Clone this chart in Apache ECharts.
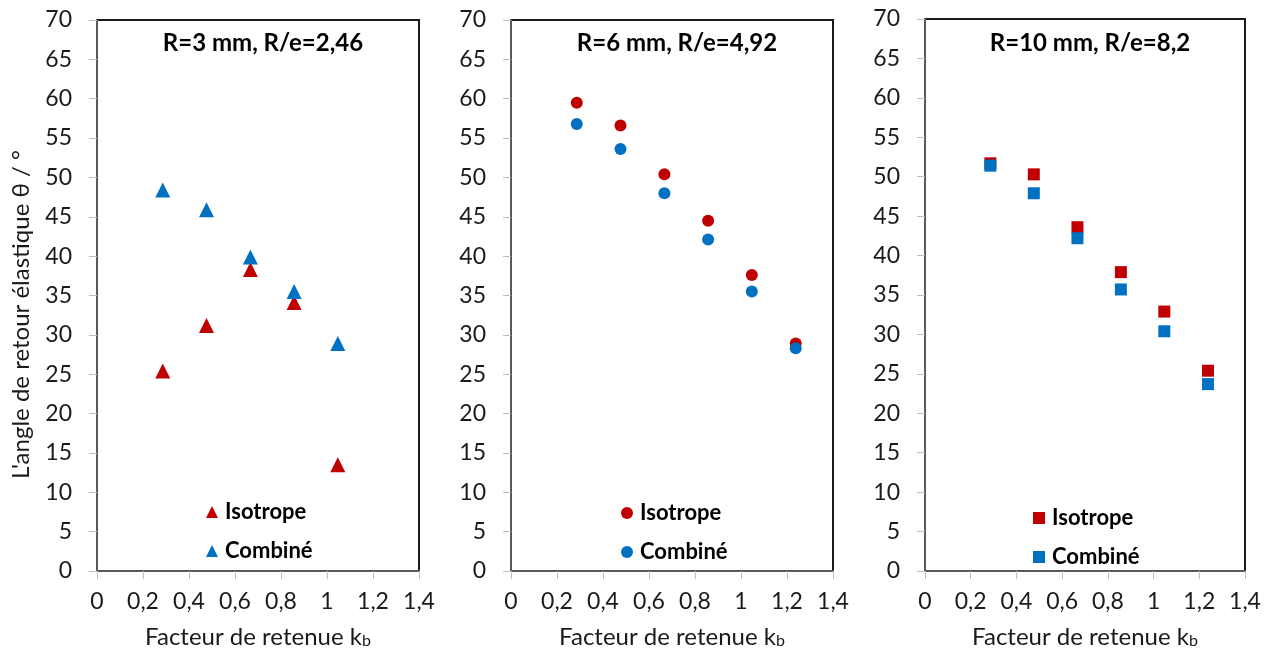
<!DOCTYPE html>
<html>
<head>
<meta charset="utf-8">
<script src="https://cdn.jsdelivr.net/npm/echarts@6/dist/echarts.min.js"></script>
<style>
html,body{margin:0;padding:0;background:#fff;}
#chart{width:1272px;height:654px;}
</style>
</head>
<body>
<div id="chart"></div>
<script>
// ---- data ----
const kbValues = [0.286, 0.476, 0.667, 0.857, 1.047, 1.238];
const panelTitles = ['R=3 mm, R/e=2,46', 'R=6 mm, R/e=4,92', 'R=10 mm, R/e=8,2'];
const seriesNames = ['Isotrope', 'Combiné'];
const p1Isotrope = [25.4, 31.2, 38.3, 34.1, 13.5];
const p1Combine  = [48.4, 45.9, 39.9, 35.5, 28.9];
const p2Isotrope = [59.5, 56.6, 50.4, 44.5, 37.6, 28.9];
const p2Combine  = [56.8, 53.6, 48.0, 42.1, 35.5, 28.3];
const p3Isotrope = [51.7, 50.3, 43.6, 37.9, 32.9, 25.4];
const p3Combine  = [51.4, 47.9, 42.2, 35.7, 30.4, 23.7];
const yAxisName = "L'angle de retour élastique θ / °";
const xAxisName = 'Facteur de retenue k';
const xAxisSub = 'b';

// ---- layout / style ----
const FONT = 'Lato';
const RED = '#C00000', BLUE = '#0070C0';
const panels = [
  {left: 97, width: 322, top: 20, height: 552, symbol: 'triangle', size: 15, iso: p1Isotrope, comb: p1Combine, leg: {x: 206, y: 501}},
  {left: 511, width: 322, top: 20, height: 552, symbol: 'circle', size: 12, iso: p2Isotrope, comb: p2Combine, leg: {x: 621, y: 502}},
  {left: 925, width: 320, top: 19, height: 558, symbol: 'rect', size: 12, iso: p3Isotrope, comb: p3Combine, leg: {x: 1033, y: 507}}
];

function pairs(ys){ return ys.map((y,i)=>[kbValues[i], y]); }
function fmtX(v){ return String(Math.round(v*10)/10).replace('.', ','); }

const grid=[], xAxis=[], yAxis=[], series=[], title=[], legend=[];
panels.forEach((p, i) => {
  grid.push({left: p.left, top: p.top, width: p.width, height: p.height, show: true, borderColor: '#1a1a1a', borderWidth: 2, backgroundColor: 'transparent'});
  xAxis.push({
    type: 'value', gridIndex: i, min: 0, max: 1.4, interval: 0.2,
    name: '{t|' + xAxisName + '}{s|' + xAxisSub + '}', nameLocation: 'middle', nameGap: 54,
    nameTextStyle: {rich: {t: {fontFamily: FONT, fontSize: 24, color: '#1a1a1a'}, s: {fontFamily: FONT, fontSize: 16, color: '#1a1a1a', padding: [7,0,0,0]}}},
    axisLine: {show: true, onZero: false, lineStyle: {color: '#595959', width: 2}},
    axisTick: {show: true, length: 8, lineStyle: {color: '#bfbfbf', width: 1}},
    axisLabel: {formatter: fmtX, fontFamily: FONT, fontSize: 23, color: '#1a1a1a', margin: 19},
    splitLine: {show: false}
  });
  yAxis.push({
    type: 'value', gridIndex: i, min: 0, max: 70, interval: 5,
    name: i === 0 ? yAxisName : '', nameLocation: 'middle', nameGap: 64, nameRotate: 90,
    nameTextStyle: {fontFamily: FONT, fontSize: 24, color: '#1a1a1a', padding: [0, 38, 0, 0]},
    axisLine: {show: true, onZero: false, lineStyle: {color: '#595959', width: 2}},
    axisTick: {show: true, length: 8, lineStyle: {color: '#bfbfbf', width: 1}},
    axisLabel: {fontFamily: FONT, fontSize: 23, color: '#1a1a1a', margin: 25},
    splitLine: {show: false}
  });
  title.push({
    text: panelTitles[i], left: p.left + p.width/2, top: 26, textAlign: 'center',
    textStyle: {fontFamily: FONT, fontSize: 24, fontWeight: 'bold', color: '#000'}
  });
  series.push({
    name: seriesNames[0], type: 'scatter', xAxisIndex: i, yAxisIndex: i,
    symbol: p.symbol, symbolSize: p.size, itemStyle: {color: RED, opacity: 1}, data: pairs(p.iso)
  });
  series.push({
    name: seriesNames[1], type: 'scatter', xAxisIndex: i, yAxisIndex: i,
    symbol: p.symbol, symbolSize: p.size, itemStyle: {color: BLUE, opacity: 1}, data: pairs(p.comb)
  });
  legend.push({
    left: p.leg.x, top: p.leg.y, orient: 'vertical', padding: 0, itemGap: 17,
    itemWidth: 12, itemHeight: 12,
    data: seriesNames.map(n => ({name: n, icon: p.symbol})),
    selectedMode: false,
    textStyle: {fontFamily: FONT, fontSize: 22, fontWeight: 'bold', color: '#000', padding: [0,0,0,2]}
  });
});

const chart = echarts.init(document.getElementById('chart'), null, {renderer: 'canvas'});
chart.setOption({animation: false, backgroundColor: '#fff', title, legend, grid, xAxis, yAxis, series});
</script>
</body>
</html>
